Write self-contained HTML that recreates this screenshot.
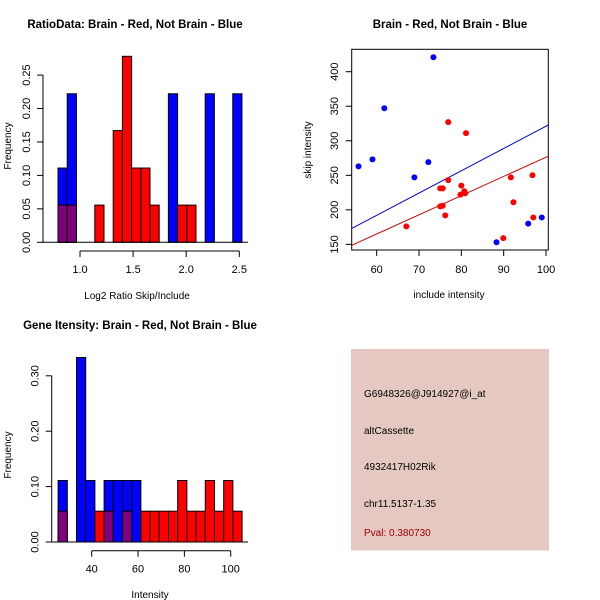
<!DOCTYPE html>
<html><head><meta charset="utf-8"><style>
body{margin:0;background:#fff}
svg{display:block;font-family:"Liberation Sans",Arial,sans-serif}
</style></head><body>
<svg id="c" width="600" height="600" viewBox="0 0 600 600"></svg>
<script>
// ---- Panel 1 data: log2 ratio histogram ----
const ratioBinStart = 0.793;
const ratioBinWidth = 0.0866;
const ratioBlue = [0.111,0.222,0,0,0,0,0,0,0,0,0,0,0.222,0,0,0,0.222,0,0,0.222];
const ratioRed  = [0.0556,0.0556,0,0,0.0556,0,0.167,0.278,0.111,0.111,0.0556,0,0,0.0556,0.0556,0,0,0,0,0];
const ratioXTicks = [1.0,1.5,2.0,2.5];
const ratioXTickLabels = ["1.0","1.5","2.0","2.5"];
const ratioYTicks = [0,0.05,0.10,0.15,0.20,0.25];
const ratioYTickLabels = ["0.00","0.05","0.10","0.15","0.20","0.25"];
// ---- Panel 2 data: scatter ----
const blueX = [55.7,59,61.8,68.9,72.2,73.4,88.3,95.8,99];
const blueY = [263,273,347,247,269,421,153,180,189];
const redX = [67,75,75.6,75,75.6,76.2,76.9,76.9,80,79.8,80.7,80.9,81.1,89.9,91.7,92.3,96.8,97];
const redY = [176,205,206,231,231,192,243,327,235,222,227,224,311,159,247,211,250,189];
const blueFit = [-1.5,3.226];   // intercept, slope
const redFit = [-1.8,2.78];
const scatXTicks = [60,70,80,90,100];
const scatYTicks = [150,200,250,300,350,400];
// ---- Panel 3 data: gene intensity histogram ----
const geneBinStart = 25.5;
const geneBinWidth = 3.97;
const geneBlue = [0.111,0,0.333,0.111,0,0.111,0.111,0.111,0.111,0,0,0,0,0,0,0,0,0,0,0];
const geneRed  = [0.0556,0,0,0,0.0556,0.0556,0,0.0556,0,0.0556,0.0556,0.0556,0.0556,0.111,0.0556,0.0556,0.111,0.0556,0.111,0.0556];
const geneXTicks = [40,60,80,100];
const geneYTicks = [0,0.1,0.2,0.3];
const geneYTickLabels = ["0.00","0.10","0.20","0.30"];

const NS="http://www.w3.org/2000/svg";
const svg=document.getElementById('c');
function mk(tag,attrs,parent,text){const e=document.createElementNS(NS,tag);for(const k in attrs)e.setAttribute(k,attrs[k]);if(text!==undefined)e.textContent=text;(parent||svg).appendChild(e);return e;}

function hist(g,blue,red,start,w,sx,sy){
  for(let i=0;i<blue.length;i++){
    const x0=sx(start+i*w),x1=sx(start+(i+1)*w);
    const b=blue[i],r=red[i];
    const hi=Math.max(b,r),lo=Math.min(b,r);
    if(hi>0){
      const e=mk('rect',{x:x0,y:sy(hi),width:x1-x0,height:sy(0)-sy(hi),fill:b>=r?'#0000ff':'#ff0000',stroke:'#000','stroke-width':1},g);
      
      
    }
    if(lo>0){
      const e=mk('rect',{x:x0,y:sy(lo),width:x1-x0,height:sy(0)-sy(lo),fill:'#800080',stroke:'#000','stroke-width':1},g);
      
      
    }
  }
}
function xAxis(g,ticks,labels,sx,y){
  mk('line',{x1:sx(ticks[0]),x2:sx(ticks[ticks.length-1]),y1:y,y2:y,stroke:'#000'},g);
  ticks.forEach((t,i)=>{mk('line',{x1:sx(t),x2:sx(t),y1:y,y2:y+6,stroke:'#000'},g);
    mk('text',{x:sx(t),y:y+22,'text-anchor':'middle','font-size':11},g,labels[i]);});
}
function yAxis(g,ticks,labels,sy,x){
  mk('line',{x1:x,x2:x,y1:sy(ticks[0]),y2:sy(ticks[ticks.length-1]),stroke:'#000'},g);
  ticks.forEach((t,i)=>{mk('line',{x1:x,x2:x-6,y1:sy(t),y2:sy(t),stroke:'#000'},g);
    mk('text',{x:x-13,y:sy(t),'text-anchor':'middle','font-size':11,transform:`rotate(-90 ${x-13} ${sy(t)})`},g,labels[i]);});
}

// Panel 1
{
  const g=mk('g',{});
  const sx=v=>80+(v-1)*106.2, sy=v=>242.3-v*669;
  hist(g,ratioBlue,ratioRed,ratioBinStart,ratioBinWidth,sx,sy);
  mk('line',{x1:43,x2:248,y1:242.3,y2:242.3,stroke:'#000'},g);
  xAxis(g,ratioXTicks,ratioXTickLabels,sx,251);
  yAxis(g,ratioYTicks,ratioYTickLabels,sy,43);
  mk('text',{x:135,y:28,'text-anchor':'middle','font-size':11.5,'font-weight':'bold',},g,'RatioData: Brain - Red, Not Brain - Blue');
  mk('text',{x:137,y:299,'text-anchor':'middle','font-size':10,},g,'Log2 Ratio Skip/Include');
  mk('text',{x:11,y:146,'text-anchor':'middle','font-size':10,transform:'rotate(-90 11 146)',},g,'Frequency');
}
// Panel 2
{
  const g=mk('g',{});
  const sx=v=>376.7+(v-60)*4.233, sy=v=>71.7-(v-400)*0.6907;
  mk('rect',{x:351.7,y:49.3,width:196.6,height:200.7,fill:'none',stroke:'#000'},g);
  const xMin=(351.7-376.7)/4.233+60, xMax=(548.3-376.7)/4.233+60;
  const cp=mk('clipPath',{id:'cp'},g);mk('rect',{x:351.7,y:49.3,width:196.6,height:200.7},cp);
  [[blueFit,'#0000cc','blue-fit-line'],[redFit,'#cc0000','red-fit-line']].forEach(([f,c,n])=>{
    const e=mk('line',{x1:sx(xMin),y1:sy(f[0]+f[1]*xMin),x2:sx(xMax),y2:sy(f[0]+f[1]*xMax),stroke:c,'stroke-width':1,'clip-path':'url(#cp)'},g);
    
    
  });
  blueX.forEach((x,i)=>{const e=mk('circle',{cx:sx(x),cy:sy(blueY[i]),r:3,fill:'#0000ff'},g);
    
    });
  redX.forEach((x,i)=>{const e=mk('circle',{cx:sx(x),cy:sy(redY[i]),r:3,fill:'#ff0000'},g);
    
    });
  scatXTicks.forEach(t=>{mk('line',{x1:sx(t),x2:sx(t),y1:250,y2:256,stroke:'#000'},g);
    mk('text',{x:sx(t),y:273,'text-anchor':'middle','font-size':11},g,String(t));});
  scatYTicks.forEach(t=>{mk('line',{x1:351.7,x2:345.7,y1:sy(t),y2:sy(t),stroke:'#000'},g);
    mk('text',{x:338,y:sy(t),'text-anchor':'middle','font-size':11,transform:`rotate(-90 338 ${sy(t)})`},g,String(t));});
  mk('text',{x:450,y:28,'text-anchor':'middle','font-size':11.5,'font-weight':'bold',},g,'Brain - Red, Not Brain - Blue');
  mk('text',{x:449,y:298,'text-anchor':'middle','font-size':10,},g,'include intensity');
  mk('text',{x:311,y:150,'text-anchor':'middle','font-size':10,transform:'rotate(-90 311 150)',},g,'skip intensity');
}
// Panel 3
{
  const g=mk('g',{});
  const sx=v=>91.7+(v-40)*2.317, sy=v=>542-v*554;
  hist(g,geneBlue,geneRed,geneBinStart,geneBinWidth,sx,sy);
  mk('line',{x1:51.7,x2:248,y1:542,y2:542,stroke:'#000'},g);
  xAxis(g,geneXTicks,geneXTicks.map(String),sx,550.7);
  yAxis(g,geneYTicks,geneYTickLabels,sy,51.7);
  mk('text',{x:140,y:329,'text-anchor':'middle','font-size':11.5,'font-weight':'bold',},g,'Gene Itensity: Brain - Red, Not Brain - Blue');
  mk('text',{x:150,y:598,'text-anchor':'middle','font-size':10,},g,'Intensity');
  mk('text',{x:11,y:455,'text-anchor':'middle','font-size':10,transform:'rotate(-90 11 455)',},g,'Frequency');
}
// Panel 4
{
  const g=mk('g',{});
  mk('rect',{x:351,y:349,width:198,height:201.5,fill:'#e5c8c2'},g);
  const lines=[['G6948326@J914927@i_at',397,'#000','probe-id'],['altCassette',434,'#000','event-type'],['4932417H02Rik',470,'#000','gene-name'],['chr11.5137-1.35',507,'#000','location'],['Pval: 0.380730',536,'#a00000','p-value']];
  lines.forEach(([t,y,c,n])=>{const e=mk('text',{x:364,y:y,'font-size':10,fill:c},g,t);
    
    });
}
</script>
</body></html>
